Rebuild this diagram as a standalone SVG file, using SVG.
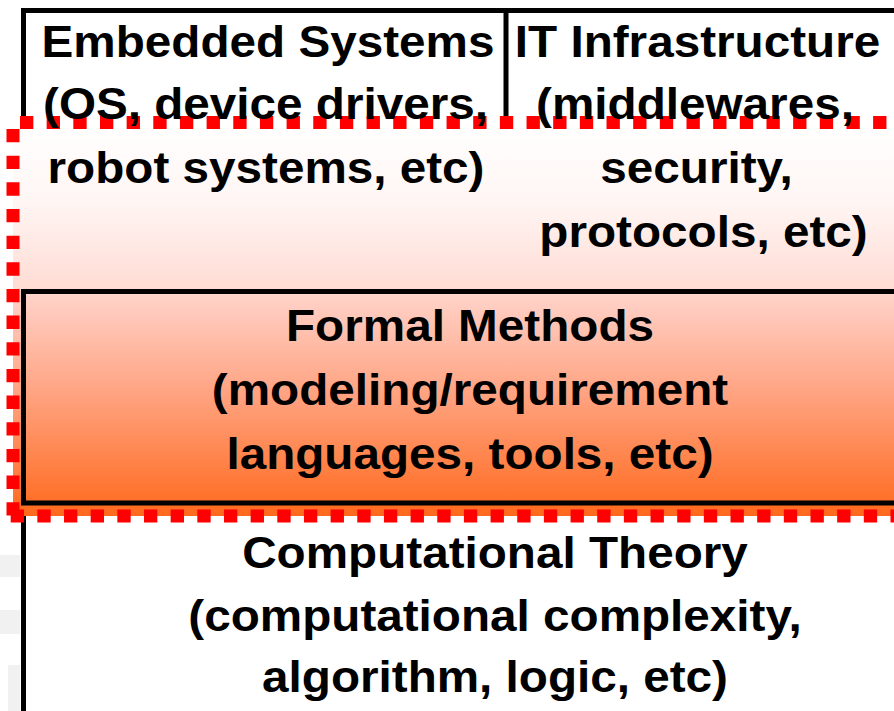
<svg xmlns="http://www.w3.org/2000/svg" width="894" height="711" viewBox="0 0 894 711">
<defs>
<linearGradient id="scopeFill" gradientUnits="userSpaceOnUse" x1="0" y1="122" x2="0" y2="516">
<stop offset="0" stop-color="#ffffff"/>
<stop offset="0.2" stop-color="#fff6f4"/>
<stop offset="0.42" stop-color="#ffdcd4"/>
<stop offset="0.45" stop-color="#ffd0c6"/>
<stop offset="0.7" stop-color="#ffa17e"/>
<stop offset="1" stop-color="#ff691c"/>
</linearGradient>
<style>
.box{fill:none;stroke:#000;stroke-width:5}
.dash{fill:none;stroke:#ff0000;stroke-width:13;stroke-dasharray:13.33 13.33}
.t{font-family:"Liberation Sans",Arial,Helvetica,sans-serif;font-weight:bold;font-size:44px;fill:#000;text-anchor:middle}
</style>
</defs>
<rect x="0" y="0" width="894" height="711" fill="#ffffff"/>
<g id="background-marks" fill="#f1f1f1">
<rect x="0" y="555" width="20" height="22"/>
<rect x="0" y="610" width="20" height="24"/>
<rect x="8" y="665" width="12" height="46"/>
</g>
<g id="node-theory">
<line class="box" x1="23.5" y1="503" x2="23.5" y2="711"/>
</g>
<g id="node-top">
<path class="box" d="M23.5 124 V10.5 H894"/>
<line class="box" x1="506" y1="10.5" x2="506" y2="124"/>
</g>
<g id="scope">
<rect x="13" y="122" width="881" height="394" fill="url(#scopeFill)"/>
<line class="dash" x1="20" y1="122.5" x2="894" y2="122.5"/>
<line class="dash" x1="13" y1="129" x2="13" y2="516"/>
<line class="dash" x1="10.7" y1="516" x2="894" y2="516"/>
</g>
<g id="node-formal">
<path class="box" d="M894 291.5 H23.5 V503 H894"/>
<text class="t" transform="translate(470,341) scale(1.083,1)">Formal Methods</text>
<text class="t" transform="translate(470,405) scale(1.083,1)">(modeling/requirement</text>
<text class="t" transform="translate(470,469) scale(1.083,1)">languages, tools, etc)</text>
</g>
<g id="node-embedded">
<text class="t" transform="translate(268,57) scale(1.083,1)">Embedded Systems</text>
<text class="t" transform="translate(265.5,119) scale(1.083,1)">(OS, device drivers,</text>
<text class="t" transform="translate(266,183) scale(1.083,1)">robot systems, etc)</text>
</g>
<g id="node-it">
<text class="t" transform="translate(697.5,57) scale(1.083,1)">IT Infrastructure</text>
<text class="t" transform="translate(695,119) scale(1.083,1)">(middlewares,</text>
<text class="t" transform="translate(696.5,183) scale(1.083,1)">security,</text>
<text class="t" transform="translate(703.5,247) scale(1.083,1)">protocols, etc)</text>
</g>
<g id="node-theory-text">
<text class="t" transform="translate(495,568) scale(1.083,1)">Computational Theory</text>
<text class="t" transform="translate(495,631) scale(1.083,1)">(computational complexity,</text>
<text class="t" transform="translate(495,692) scale(1.083,1)">algorithm, logic, etc)</text>
</g>
<g id="connectors"/>
</svg>
